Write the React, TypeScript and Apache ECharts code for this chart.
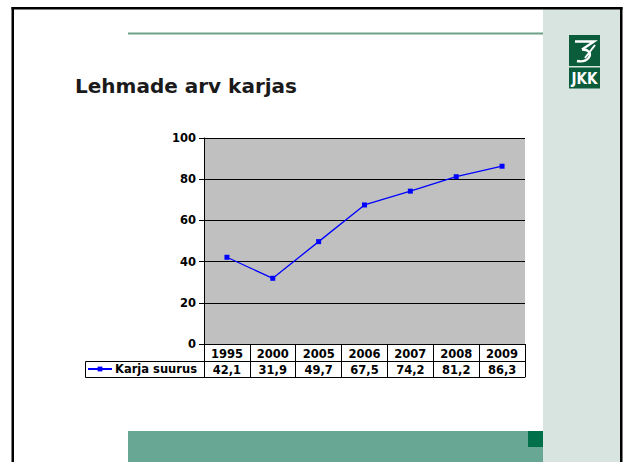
import React, { useEffect, useRef } from "react";
import * as echarts from "echarts";

const years = ["1995", "2000", "2005", "2006", "2007", "2008", "2009"];
const herdSize = [42.1, 31.9, 49.7, 67.5, 74.2, 81.2, 86.3];
const seriesName = "Karja suurus";
const titleText = "Lehmade arv karjas";
const yMin = 0;
const yMax = 100;
const yStep = 20;

const FONT = "'DejaVu Sans', Verdana, sans-serif";
const labelFont = { fontFamily: FONT, fontWeight: "bold" as const, fontSize: 11.5, color: "#000" };

export default function App() {
  const ref = useRef<HTMLDivElement>(null);
  useEffect(() => {
    if (!ref.current) return;
    const chart = echarts.init(ref.current, null, { renderer: "svg" });
    const fmt = (v: number) => v.toFixed(1).replace(".", ",");
    chart.setOption({
      animation: false,
      backgroundColor: "#ffffff",
      title: {
        text: titleText,
        left: 75,
        top: 75.5,
        padding: 0,
        textStyle: { fontFamily: FONT, fontWeight: "bold", fontSize: 20, color: "#1a1a1a" },
      },
      grid: {
        left: 204,
        top: 138,
        width: 321,
        height: 206,
        show: true,
        backgroundColor: "#c0c0c0",
        borderWidth: 0,
      },
      legend: {
        show: true,
        left: 87,
        top: 363,
        padding: 0,
        itemWidth: 24,
        itemHeight: 6,
        itemGap: 4,
        textStyle: { ...labelFont, padding: [0, 0, 0, -2] },
        data: [seriesName],
      },
      xAxis: [
        {
          type: "category",
          data: years,
          position: "bottom",
          boundaryGap: true,
          axisLine: { show: true, lineStyle: { color: "#000", width: 1 } },
          axisTick: { show: true, interval: 0, length: 33, lineStyle: { color: "#000", width: 1 } },
          axisLabel: { ...labelFont, margin: 4, interval: 0 },
          splitLine: { show: false },
        },
        {
          type: "category",
          data: herdSize.map(fmt),
          position: "bottom",
          offset: 17,
          boundaryGap: true,
          axisLine: { show: true, lineStyle: { color: "#000", width: 1 } },
          axisTick: { show: false },
          axisLabel: { ...labelFont, margin: 3, interval: 0 },
          splitLine: { show: false },
        },
        {
          type: "category",
          data: years,
          position: "bottom",
          offset: 33,
          boundaryGap: true,
          axisLine: { show: true, lineStyle: { color: "#000", width: 1 } },
          axisTick: { show: false },
          axisLabel: { show: false },
          splitLine: { show: false },
        },
      ],
      yAxis: {
        type: "value",
        min: yMin,
        max: yMax,
        interval: yStep,
        axisLine: { show: true, lineStyle: { color: "#000", width: 1 } },
        axisTick: { show: true, length: 5, lineStyle: { color: "#000" } },
        axisLabel: { ...labelFont, margin: 8 },
        splitLine: { show: true, lineStyle: { color: "#000", width: 1 } },
      },
      series: [
        {
          name: seriesName,
          type: "line",
          xAxisIndex: 0,
          data: herdSize,
          symbol: "rect",
          symbolSize: 5,
          color: "#0000ff",
          itemStyle: { color: "#0000ff" },
          lineStyle: { color: "#0000ff", width: 1.3 },
        },
      ],
      graphic: [
        // right side panel
        { type: "rect", z: -5, shape: { x: 543, y: 9, width: 78, height: 453 }, style: { fill: "#d7e4df" } },
        // top accent line
        { type: "rect", z: -5, shape: { x: 128, y: 32.5, width: 415, height: 2 }, style: { fill: "#6f9f8b" } },
        // bottom band
        { type: "rect", z: -5, shape: { x: 128, y: 431, width: 415, height: 31 }, style: { fill: "#67a793" } },
        { type: "rect", z: -4, shape: { x: 528, y: 431, width: 15, height: 16 }, style: { fill: "#00704a" } },
        // frame
        { type: "rect", z: 10, shape: { x: 11.5, y: 7, width: 611, height: 2.5 }, style: { fill: "#000" } },
        { type: "rect", z: 10, shape: { x: 11.5, y: 7, width: 2.5, height: 455 }, style: { fill: "#000" } },
        { type: "rect", z: 10, shape: { x: 620, y: 7, width: 2.5, height: 455 }, style: { fill: "#000" } },
        // legend cell border
        { type: "rect", z: 5, shape: { x: 85.5, y: 361.5, width: 119, height: 16 }, style: { fill: "none", stroke: "#000", lineWidth: 1 } },
        // logo
        { type: "rect", z: -3, shape: { x: 569, y: 35, width: 31, height: 31 }, style: { fill: "#0b5c3b" } },
        { type: "rect", z: -3, shape: { x: 569, y: 67.5, width: 31, height: 21 }, style: { fill: "#0b5c3b" } },
        {
          type: "polyline",
          z: -2,
          shape: { points: [[575, 41.5], [594, 41.5], [582, 49.5]] },
          style: { stroke: "#fff", lineWidth: 2.4, fill: "none" },
        },
        {
          type: "bezierCurve",
          z: -2,
          shape: { x1: 582, y1: 49.5, x2: 577, y2: 61, cpx1: 595, cpy1: 49, cpx2: 591, cpy2: 64 },
          style: { stroke: "#fff", lineWidth: 2.4, fill: "none" },
        },
        {
          type: "line",
          z: -2,
          shape: { x1: 585, y1: 58, x2: 595, y2: 45 },
          style: { stroke: "#fff", lineWidth: 2 },
        },
        {
          type: "text",
          z: -2,
          style: {
            x: 584.5,
            y: 78.5,
            text: "JKK",
            fill: "#fff",
            font: "bold 15px 'DejaVu Sans Condensed', 'Liberation Sans Narrow', sans-serif",
            align: "center",
            verticalAlign: "middle",
          },
        },
      ],
    });
    return () => chart.dispose();
  }, []);
  return (
    <div
      ref={ref}
      style={{ position: "fixed", left: 0, top: 0, width: 625, height: 462 }}
    />
  );
}
